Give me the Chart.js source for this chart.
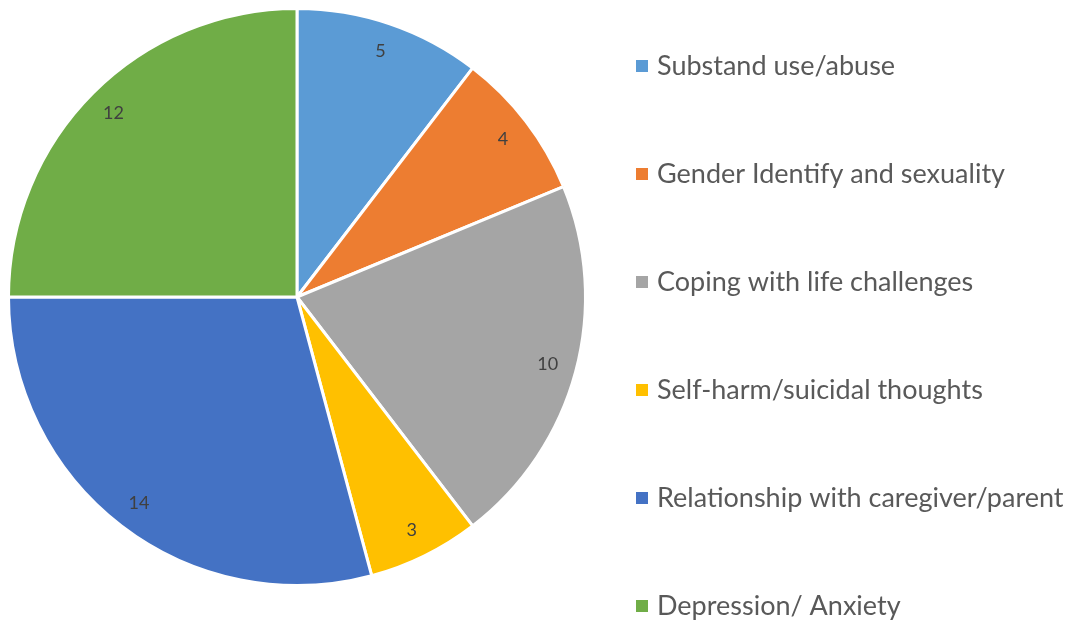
<!DOCTYPE html>
<html>
<head>
<meta charset="utf-8">
<script src="https://cdn.jsdelivr.net/npm/chart.js@4.4.1/dist/chart.umd.min.js"></script>
<style>
  html, body { margin: 0; padding: 0; background: #ffffff; }
  #wrap { position: relative; width: 1081px; height: 624px; }
</style>
</head>
<body>
<div id="wrap"><canvas id="c" width="1081" height="624"></canvas></div>
<script>
// Topics raised and how many times each came up
const categories = [
  'Substand use/abuse',
  'Gender Identify and sexuality',
  'Coping with life challenges',
  'Self-harm/suicidal thoughts',
  'Relationship with caregiver/parent',
  'Depression/ Anxiety'
];
const counts = [5, 4, 10, 3, 14, 12];
const sliceColors = ['#5B9BD5', '#ED7D31', '#A5A5A5', '#FFC000', '#4472C4', '#70AD47'];

const FONT = 'Lato, "Open Sans", sans-serif';

// Value labels inside each slice, near the outer edge
const sliceLabels = {
  id: 'sliceLabels',
  afterDatasetsDraw(chart) {
    const ctx = chart.ctx;
    const meta = chart.getDatasetMeta(0);
    ctx.save();
    ctx.font = '18px ' + FONT;
    ctx.fillStyle = '#404040';
    ctx.textAlign = 'center';
    ctx.textBaseline = 'middle';
    meta.data.forEach((arc, i) => {
      const p = arc.getProps(['x', 'y', 'startAngle', 'endAngle', 'outerRadius'], true);
      const mid = (p.startAngle + p.endAngle) / 2;
      const r = p.outerRadius * 0.9;
      ctx.fillText(String(counts[i]), p.x + Math.cos(mid) * r, p.y + Math.sin(mid) * r);
    });
    ctx.restore();
  }
};

// Legend column on the right side
const sideLegend = {
  id: 'sideLegend',
  afterDraw(chart) {
    const ctx = chart.ctx;
    const x0 = 636, y0 = 66, step = 108, box = 12;
    ctx.save();
    ctx.font = '27px ' + FONT;
    ctx.textBaseline = 'middle';
    ctx.textAlign = 'left';
    chart.data.labels.forEach((lab, i) => {
      const y = y0 + i * step;
      ctx.fillStyle = sliceColors[i];
      ctx.fillRect(x0, y - box / 2, box, box);
      ctx.fillStyle = '#595959';
      ctx.fillText(lab, x0 + 21, y);
    });
    ctx.restore();
  }
};

new Chart(document.getElementById('c'), {
  type: 'pie',
  data: {
    labels: categories,
    datasets: [{
      data: counts,
      backgroundColor: sliceColors,
      borderColor: '#ffffff',
      borderWidth: 3,
      hoverOffset: 0
    }]
  },
  options: {
    responsive: false,
    animation: false,
    events: [],
    layout: { padding: { left: 7, top: 7, right: 1081 - 587, bottom: 624 - 587 } },
    plugins: {
      legend: { display: false },
      tooltip: { enabled: false }
    }
  },
  plugins: [sliceLabels, sideLegend]
});
</script>
</body>
</html>
